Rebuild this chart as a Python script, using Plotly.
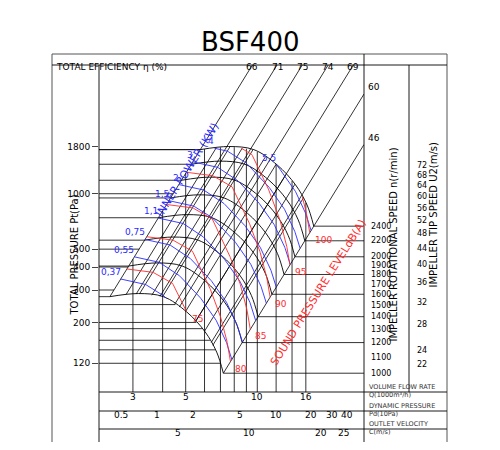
import numpy as np
import plotly.graph_objects as go

# base fan curve at 1000 r/min (Q in 1000 m3/h, P in Pa) and its power / sound
base_q = [2.40, 3.16, 4.03, 5.05, 6.03, 6.75, 7.20]
base_p = [276, 287, 276, 228, 178, 138, 106]
base_kw = [0.27, 0.31, 0.365, 0.40, 0.42, 0.43, 0.43]
base_db = [70.7, 71.6, 72.8, 75.0, 76.6, 77.6, 78.2]

speeds = [1000, 1200, 1400, 1600, 1800, 2000, 2200, 2400]
speed_labels = [1000, 1100, 1200, 1300, 1400, 1500, 1600, 1700, 1800, 1900, 2000, 2200, 2400]
tip_labels = [22, 24, 28, 32, 36, 40, 44, 48, 52, 56, 60, 64, 68, 72]

eff_labels = ["66", "71", "75", "74", "69", "60", "46"]
eff_q0 = [2.40, 3.1, 3.9, 4.7, 5.5, 6.4, 7.2]
grid_q0 = [2.8, 3.2, 3.6, 4.0, 4.5, 5.0, 5.5, 6.0, 6.5]

power_levels = [0.37, 0.55, 0.75, 1.1, 1.5, 2, 3, 4, 5.5]
power_text = ["0,37", "0,55", "0,75", "1,1", "1,5", "2", "3", "4", "5,5"]
sound_levels = [75, 80, 85, 90, 95, 100]

q_lines = [3, 4, 5, 6, 7, 8, 9, 10, 12, 14, 16]
q_labels = [3, 5, 10, 16]
p_ticks = [120, 200, 300, 400, 500, 1000, 1800]
p_grid = [250, 200, 185, 160, 142, 120]
pd_labels = [0.5, 1, 2, 5, 10, 20, 30, 40]
pd_minor = [0.4, 0.6, 0.7, 0.8, 0.9, 1.2, 1.4, 1.6, 1.8, 3, 4, 6, 7, 8, 9, 12, 14, 16, 18, 25, 35]
vel_labels = [5, 10, 20, 25]
vel_minor = [3, 4, 6, 7, 8, 9, 15]

PEXP = 2.1
NMAX = 2.4
XR = [np.log10(2.16), np.log10(28.1)]
YR = [np.log10(83.8), np.log10(5000)]
QMIN, QMAX = 10 ** XR[0], 10 ** XR[1]
PMIN, PMAX = 10 ** YR[0], 10 ** YR[1]
FONT = "DejaVu Sans"
BLUE = "#2b2bff"
RED = "#ff2b2b"
OFF = 8  # page body margin
W, H = 500 - 2 * OFF, 450 - 2 * OFF


def px(x):
    return (x - OFF) / W


def py(y):
    return 1 - (y - OFF) / H


idx = np.arange(len(base_q))
t = np.linspace(0, len(base_q) - 1, 181)
dq = 10 ** np.interp(t, idx, np.log10(base_q))
dp = 10 ** np.interp(t, idx, np.log10(base_p))
dkw = np.interp(t, idx, base_kw)
ddb = np.interp(t, idx, base_db)

fig = go.Figure()


def line(x, y, color="black", width=0.8, shape="linear"):
    fig.add_trace(go.Scatter(x=x, y=y, mode="lines", hoverinfo="skip",
                             line=dict(color=color, width=width, shape=shape)))


def on_base(q0):
    return 10 ** np.interp(np.log10(q0), np.log10(base_q), np.log10(base_p))


def upper(q):
    ql = base_q[0] * NMAX
    if q <= ql:
        return base_p[0] * (q / base_q[0]) ** PEXP
    if q <= base_q[-1] * NMAX:
        return 10 ** np.interp(np.log10(q), np.log10(dq * NMAX), np.log10(dp * NMAX ** PEXP))
    return base_p[-1] * (q / base_q[-1]) ** PEXP


# vertical flow lines
for q in q_lines:
    line([q, q], [PMIN, upper(q)])

# left horizontal lines
for n in speeds:
    p = base_p[0] * (n / 1000) ** PEXP
    line([QMIN, base_q[0] * (n / 1000)], [p, p])
for p in p_ticks:
    if p > base_p[0]:
        p = min(p, base_p[0] * NMAX ** PEXP)
        line([QMIN, base_q[0] * (p / base_p[0]) ** (1 / PEXP)], [p, p])
imax = int(np.argmax(dp))
for p in p_grid:
    qq = 10 ** np.interp(np.log10(p), np.log10(dp[imax:][::-1]), np.log10(dq[imax:][::-1]))
    line([QMIN, qq], [p, p])

# right horizontal lines to speed scale
for n in speeds:
    p = base_p[-1] * (n / 1000) ** PEXP
    line([base_q[-1] * (n / 1000), QMAX], [p, p])

# speed curves
for n in speeds:
    s = n / 1000
    line([q * s for q in base_q], [p * s ** PEXP for p in base_p], shape="spline", width=0.9)

# grid diagonals
for q0 in grid_q0:
    p0 = on_base(q0)
    line([q0, q0 * NMAX], [p0, p0 * NMAX ** PEXP])

# efficiency lines
for lab, q0 in zip(eff_labels, eff_q0):
    p0 = on_base(q0)
    smax = min((PMAX / p0) ** (1 / PEXP), QMAX / q0)
    line([q0, q0 * smax], [p0, p0 * smax ** PEXP])
    if q0 * smax < QMAX * 0.99:
        fig.add_annotation(x=np.log10(q0 * smax), y=py(60), yref="paper", text=lab,
                           showarrow=False, font=dict(size=9, color="black", family=FONT))
    else:
        fig.add_annotation(x=px(366), xref="paper", y=np.log10(p0 * smax ** PEXP), text=lab,
                           showarrow=False, xanchor="left", yanchor="bottom",
                           font=dict(size=9, color="black", family=FONT))


def iso(n):
    m = (n >= 1) & (n <= NMAX)
    return dq[m] * n[m], dp[m] * n[m] ** PEXP


# inner power curves
for w, txt in zip(power_levels, power_text):
    qs, ps = iso((w / dkw) ** (1 / 3))
    if len(qs) < 2:
        continue
    line(qs, ps, color=BLUE, width=0.9)
    fig.add_annotation(x=np.log10(qs[0]), y=np.log10(ps[0]), text=txt, showarrow=False,
                       xanchor="right", yanchor="bottom", xshift=2,
                       font=dict(size=9, color=BLUE, family=FONT))

# sound pressure curves
for lv in sound_levels:
    qs, ps = iso(10 ** ((lv - ddb) / 60))
    if len(qs) < 2:
        continue
    line(qs, ps, color=RED, width=0.9)
    fig.add_annotation(x=np.log10(qs[-1]), y=np.log10(ps[-1]), text=str(lv), showarrow=False,
                       xanchor="left", yanchor="top", xshift=3,
                       font=dict(size=9, color=RED, family=FONT))

fig.add_annotation(x=px(150), y=py(170), xref="paper", yref="paper", text="INNER POWER (KW)",
                   textangle=-58, showarrow=False, font=dict(size=11, color=BLUE, family=FONT))
fig.add_annotation(x=px(318), y=py(292), xref="paper", yref="paper", text="SOUND PRESSURE LEVELdB(A)",
                   textangle=-58, showarrow=False, font=dict(size=11, color=RED, family=FONT))

shapes = []


def seg(x0, y0, x1, y1, xref="paper", yref="paper"):
    shapes.append(dict(type="line", x0=x0, y0=y0, x1=x1, y1=y1, xref=xref, yref=yref,
                       line=dict(color="black", width=0.9)))


# frame
shapes.append(dict(type="rect", x0=px(52), x1=px(447), y0=py(448), y1=py(54), xref="paper",
                   yref="paper", line=dict(color="#555", width=1)))
seg(px(52), py(65), px(447), py(65))
seg(px(99), py(65), px(99), py(448))
seg(px(364), py(54), px(364), py(448))
seg(px(409), py(65), px(409), py(392))
for yy in [392, 411, 429]:
    seg(px(99), py(yy), px(447), py(yy))

# speed scale
for n in range(1000, 2401, 20):
    p = np.log10(base_p[-1] * (n / 1000) ** PEXP)
    ln = 5 if n % 100 == 0 else 2.5
    seg(px(364), p, px(364 + ln), p, yref="y")
for n in speed_labels:
    fig.add_annotation(x=px(369), xref="paper", y=np.log10(base_p[-1] * (n / 1000) ** PEXP),
                       text=str(n), showarrow=False, xanchor="left",
                       font=dict(size=8, color="black", family=FONT))

# tip speed scale (impeller D = 0.4 m)
for u in range(22, 73, 2):
    n = u * 60 / (np.pi * 0.4)
    p = np.log10(base_p[-1] * (n / 1000) ** PEXP)
    if u in tip_labels:
        seg(px(409), p, px(414), p, yref="y")
    else:
        seg(px(406), p, px(409), p, yref="y")
for u in tip_labels:
    n = u * 60 / (np.pi * 0.4)
    fig.add_annotation(x=px(415), xref="paper", y=np.log10(base_p[-1] * (n / 1000) ** PEXP),
                       text=str(u), showarrow=False, xanchor="left",
                       font=dict(size=8, color="black", family=FONT))

# bottom scales
for q in q_labels:
    fig.add_annotation(x=np.log10(q), y=py(404), yref="paper", text=str(q), showarrow=False,
                       font=dict(size=9, color="black", family=FONT))
AREA = 0.257


def q_of_vel(c):
    return c * AREA * 3.6


for pd_ in pd_labels + pd_minor:
    q = q_of_vel(np.sqrt(2 * pd_ * 10 / 1.2))
    seg(np.log10(q), py(411), np.log10(q), py(416 if pd_ in pd_labels else 414), xref="x")
for pd_ in pd_labels:
    q = q_of_vel(np.sqrt(2 * pd_ * 10 / 1.2))
    fig.add_annotation(x=np.log10(q), y=py(422), yref="paper", text=str(pd_), showarrow=False,
                       font=dict(size=9, color="black", family=FONT))
for c in vel_labels + vel_minor:
    q = q_of_vel(c)
    seg(np.log10(q), py(429), np.log10(q), py(434 if c in vel_labels else 432), xref="x")
for c in vel_labels:
    fig.add_annotation(x=np.log10(q_of_vel(c)), y=py(440), yref="paper", text=str(c),
                       showarrow=False, font=dict(size=9, color="black", family=FONT))

for yy, txt in [(401, "VOLUME FLOW RATE<br>Q(1000m³/h)"), (420, "DYNAMIC PRESSURE<br>Pd(10Pa)"),
                (438, "OUTLET VELOCITY<br>C(m/s)")]:
    fig.add_annotation(x=px(367), y=py(yy), xref="paper", yref="paper", text=txt, showarrow=False,
                       xanchor="left", align="left", font=dict(size=6.5, color="#333", family=FONT))

fig.add_annotation(x=px(54), y=py(60), xref="paper", yref="paper", text="TOTAL EFFICIENCY η (%)",
                   showarrow=False, xanchor="left", font=dict(size=9, color="black", family=FONT))
fig.add_annotation(x=px(250), y=py(25), xref="paper", yref="paper", text="BSF400",
                   showarrow=False, font=dict(size=26, color="black", family=FONT))
fig.add_annotation(x=px(66), y=py(255), xref="paper", yref="paper", text="TOTAL PRESSURE Pt(Pa)",
                   textangle=-90, showarrow=False, font=dict(size=10, color="black", family=FONT))
fig.add_annotation(x=px(400), y=py(245), xref="paper", yref="paper",
                   text="IMPELLER ROTATIONAL SPEED n(r/min)", textangle=-90, showarrow=False,
                   font=dict(size=10, color="black", family=FONT))
fig.add_annotation(x=px(440), y=py(215), xref="paper", yref="paper",
                   text="IMPELLER TIP SPEED U2(m/s)", textangle=-90, showarrow=False,
                   font=dict(size=10, color="black", family=FONT))

fig.update_layout(
    width=W, height=H, margin=dict(l=0, r=0, t=0, b=0),
    paper_bgcolor="white", plot_bgcolor="white", showlegend=False, shapes=shapes,
    font=dict(family=FONT, size=9, color="black"),
    xaxis=dict(type="log", range=XR, domain=[px(99), px(364)], showgrid=False,
               showticklabels=False, ticks="", zeroline=False),
    yaxis=dict(type="log", range=YR, domain=[py(392), py(65)], showgrid=False,
               tickvals=p_ticks, ticktext=[str(v) for v in p_ticks], ticks="outside",
               ticklen=6, tickfont=dict(size=9), zeroline=False),
)

fig.write_html("out.html")
